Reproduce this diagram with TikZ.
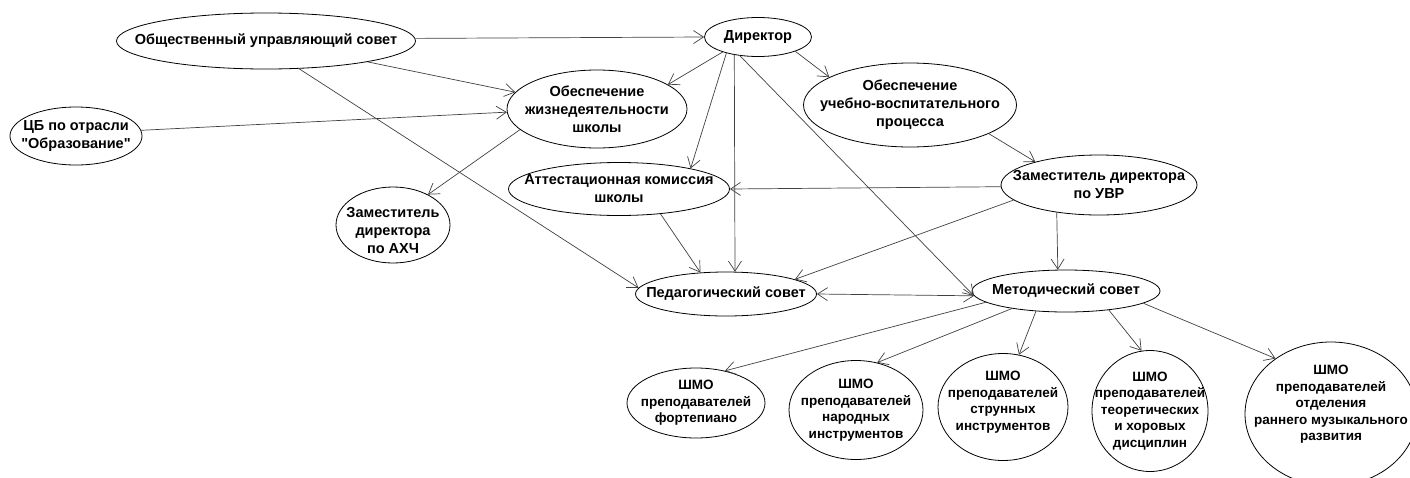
\documentclass[tikz,border=0pt]{standalone}
\usepackage{fontspec}
\setmainfont{Liberation Sans}
\usetikzlibrary{arrows.meta, shapes.geometric}

\begin{document}
\begin{tikzpicture}[x=1pt, y=-1pt, >={Straight Barb[length=10pt,width=13pt]}]
\tikzstyle{unit}=[ellipse, draw, line width=0.8pt, inner sep=-200pt, align=center, font=\bfseries\fontsize{14.5}{18}\selectfont]
\tikzstyle{shmo}=[unit, font=\bfseries\fontsize{13.5}{16.5}\selectfont]
\tikzstyle{link}=[->, draw=black!75, line width=0.7pt]
\useasboundingbox (0,0) rectangle (1410,477);
\node[unit, minimum width=299pt, minimum height=56pt] (ous) at (266,41) {Общественный управляющий совет};
\node[unit, minimum width=132pt, minimum height=58pt] (cb) at (76,136) {ЦБ по отрасли\\\textquotedbl Образование\textquotedbl};
\node[unit, minimum width=107pt, minimum height=39pt] (dir) at (758,37) {Директор};
\node[unit, minimum width=180pt, minimum height=78pt] (zhiz) at (597,109) {Обеспечение\\жизнедеятельности\\школы};
\node[unit, minimum width=221pt, minimum height=53pt] (att) at (619,189) {Аттестационная комиссия\\школы};
\node[unit, minimum width=213pt, minimum height=84pt] (uvp) at (910,105) {Обеспечение\\учебно-воспитательного\\процесса};
\node[unit, minimum width=196pt, minimum height=60pt] (zamuvr) at (1099,185) {Заместитель директора\\по УВР};
\node[unit, minimum width=114pt, minimum height=76pt] (ahch) at (393,225) {\rule{0pt}{22pt}Заместитель\\директора\\по АХЧ};
\node[unit, minimum width=181pt, minimum height=44pt] (ped) at (726,294) {Педагогический совет};
\node[unit, minimum width=188pt, minimum height=42pt] (met) at (1066,291) {Методический совет};
\node[shmo, minimum width=138pt, minimum height=70pt] (shmo1) at (696,403) {ШМО\\преподавателей\\фортепиано};
\node[shmo, minimum width=134pt, minimum height=99pt] (shmo2) at (856,410) {ШМО\\преподавателей\\народных\\инструментов};
\node[shmo, minimum width=130pt, minimum height=107pt] (shmo3) at (1003,407) {ШМО\\преподавателей\\струнных\\инструментов\rule[-12pt]{0pt}{12pt}};
\node[shmo, minimum width=116pt, minimum height=121pt] (shmo4) at (1150,411) {ШМО\\преподавателей\\теоретических\\и хоровых\\дисциплин};
\node[shmo, minimum width=172pt, minimum height=144pt] (shmo5) at (1331,414) {ШМО\\преподавателей\\отделения\\раннего музыкального\\развития\rule[-22pt]{0pt}{22pt}};
% links from the council and the accounting office
\draw[link] (ous.1) -- (dir.west);
\draw[link] (ous) -- (zhiz);
\draw[link] (ous.-40) -- (ped.176);
\draw[link] (cb.5) -- (zhiz.182);
\draw[link] (zhiz.195) -- (ahch.41);
% links from the director
\draw[link] (dir.203) -- (zhiz.19);
\draw[link] (dir.207) -- (att.16);
\draw[link] (dir.217) -- (ped.68);
\draw[link] (dir.226) -- (met.183);
\draw[link] (dir.-21) -- (uvp.161);
\draw[link] (uvp.-20) -- (zamuvr.160);
% links from the deputy
\draw[link] (zamuvr.181) -- (att.east);
\draw[link] (zamuvr.190) -- (ped.12);
\draw[link] (zamuvr.213) -- (met.111);
\draw[link] (att.-31) -- (ped.140);
\draw[link, <->] (ped.east) -- (met.183);
% methodical council
\draw[link] (met.188) -- (shmo1.48);
\draw[link] (met.198) -- (shmo2.66);
\draw[link] (met.214) -- (shmo3.73);
\draw[link] (met.-24) -- (shmo4.98);
\draw[link] (met.-9) -- (shmo5.135);
\end{tikzpicture}
\end{document}
